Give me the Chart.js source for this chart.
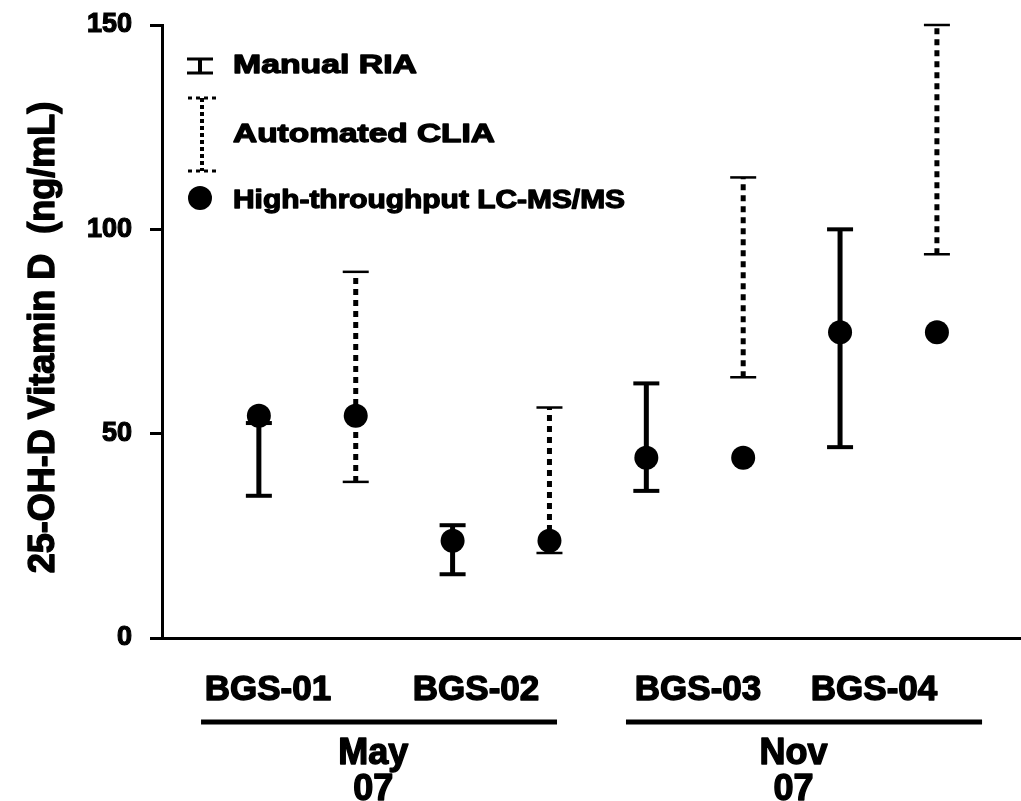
<!DOCTYPE html>
<html>
<head>
<meta charset="utf-8">
<script src="https://cdn.jsdelivr.net/npm/chart.js@4"></script>
<style>
  html, body { margin: 0; padding: 0; background: #fff; overflow: hidden; }
  #wrap { width: 1021px; height: 801px; position: relative; }
  #c { display: block; }
</style>
</head>
<body>
<div id="wrap"><canvas id="c"></canvas></div>
<script>
// ---- data ----
const samples = ['BGS-01', 'BGS-02', 'BGS-03', 'BGS-04'];
const groupNames = ['May', 'Nov'];
const groupYears = ['07', '07'];
const yTicks = [0, 50, 100, 150];
const lcmsms = [54.4, 23.8, 44.1, 74.8];
const riaLow = [34.8, 15.6, 36.0, 46.7];
const riaHigh = [52.6, 27.6, 62.3, 100.0];
const cliaLow = [38.2, 20.8, 63.8, 93.9];
const cliaHigh = [89.6, 56.4, 112.7, 150.0];
const legendLabels = ['Manual RIA', 'Automated CLIA', 'High-throughput LC-MS/MS'];
const yTitle = '25-OH-D Vitamin D  (ng/mL)';

// x slots: RIA at odd slots, CLIA at even slots
function barData(lows, highs, offset) {
  const out = [];
  lows.forEach((lo, i) => {
    const x = 2 * i + 1 + offset;
    out.push({ x: x, y: lo }, { x: x, y: highs[i] }, { x: x, y: null });
  });
  return out;
}
const pointData = [];
lcmsms.forEach((v, i) => { pointData.push({ x: 2 * i + 1, y: v }, { x: 2 * i + 2, y: v }); });

const FONT = '"Liberation Sans", Arial, sans-serif';

// positions (in x-axis units) of the category texts under the axis
const labelPos = [1.094, 3.242, 5.534, 7.351];
const groupPos = [2.18, 6.52];
const groupLines = [[0.403, 4.078], [4.790, 8.466]];

function heavyText(ctx, t, x, y, w) {
  ctx.lineWidth = w;
  ctx.lineJoin = 'round';
  ctx.strokeText(t, x, y);
  ctx.fillText(t, x, y);
}

const bottomLabels = {
  id: 'bottomLabels',
  afterDraw(chart) {
    const { ctx, chartArea } = chart;
    const xs = chart.scales.x;
    const b = chartArea.bottom;
    ctx.save();
    ctx.fillStyle = '#000';
    ctx.strokeStyle = '#000';
    ctx.textAlign = 'center';
    ctx.textBaseline = 'alphabetic';
    ctx.font = 'bold 35px ' + FONT;
    samples.forEach((s, i) => {
      heavyText(ctx, s, xs.getPixelForValue(labelPos[i]), b + 62, 1.4);
    });
    ctx.lineWidth = 5;
    ctx.lineCap = 'butt';
    groupLines.forEach(([a, c]) => {
      ctx.beginPath();
      ctx.moveTo(xs.getPixelForValue(a), b + 84);
      ctx.lineTo(xs.getPixelForValue(c), b + 84);
      ctx.stroke();
    });
    ctx.font = 'bold 36px ' + FONT;
    groupNames.forEach((g, i) => {
      heavyText(ctx, g, xs.getPixelForValue(groupPos[i]), b + 126, 1.4);
      heavyText(ctx, groupYears[i], xs.getPixelForValue(groupPos[i]), b + 162, 1.4);
    });
    // y-axis title
    const ys = chart.scales.y;
    ctx.save();
    ctx.translate(44, (ys.getPixelForValue(0) + ys.getPixelForValue(150)) / 2 + 6);
    ctx.rotate(-Math.PI / 2);
    ctx.font = 'bold 36px ' + FONT;
    ctx.textAlign = 'center';
    ctx.textBaseline = 'middle';
    heavyText(ctx, yTitle, 0, 0, 1.4);
    ctx.restore();
    ctx.restore();
  }
};

const legendPlugin = {
  id: 'customLegend',
  afterDraw(chart) {
    const { ctx } = chart;
    ctx.save();
    ctx.fillStyle = '#000';
    ctx.strokeStyle = '#000';
    // I-bar icon
    ctx.lineWidth = 3;
    ctx.beginPath();
    ctx.moveTo(187, 59); ctx.lineTo(213, 59);
    ctx.moveTo(187, 73); ctx.lineTo(213, 73);
    ctx.stroke();
    ctx.lineWidth = 4;
    ctx.beginPath();
    ctx.moveTo(200, 59); ctx.lineTo(200, 73);
    ctx.stroke();
    // dotted icon
    ctx.lineWidth = 3;
    ctx.setLineDash([4, 4]);
    ctx.beginPath();
    ctx.moveTo(188, 98); ctx.lineTo(220, 98);
    ctx.moveTo(188, 171); ctx.lineTo(220, 171);
    ctx.stroke();
    ctx.lineWidth = 4;
    ctx.setLineDash([4, 3]);
    ctx.beginPath();
    ctx.moveTo(202, 98); ctx.lineTo(202, 171);
    ctx.stroke();
    ctx.setLineDash([]);
    // circle
    ctx.beginPath();
    ctx.arc(200, 198, 12, 0, Math.PI * 2);
    ctx.fill();
    // texts
    ctx.font = 'bold 26px ' + FONT;
    ctx.textAlign = 'left';
    ctx.textBaseline = 'alphabetic';
    const rows = [[73, 184], [142, 262], [208, 392]];
    legendLabels.forEach((t, i) => {
      const w = ctx.measureText(t).width;
      ctx.save();
      ctx.translate(233, rows[i][0]);
      ctx.scale(rows[i][1] / w, 1);
      heavyText(ctx, t, 0, 0, 1.3);
      ctx.restore();
    });
    ctx.restore();
  }
};

new Chart(document.getElementById('c'), {
  type: 'scatter',
  data: {
    datasets: [
      {
        label: legendLabels[0],
        data: barData(riaLow, riaHigh, 0),
        showLine: true,
        spanGaps: false,
        borderColor: '#000',
        borderWidth: 5,
        pointStyle: 'line',
        pointRadius: 13,
        pointBorderWidth: 4,
        pointBorderColor: '#000',
        pointBackgroundColor: '#000',
        clip: false,
        order: 3
      },
      {
        label: legendLabels[1],
        data: barData(cliaLow, cliaHigh, 1),
        showLine: true,
        spanGaps: false,
        borderColor: '#000',
        borderWidth: 5,
        borderDash: [6, 5],
        borderCapStyle: 'butt',
        pointStyle: 'line',
        pointRadius: 13,
        pointBorderWidth: 2.5,
        pointBorderColor: '#000',
        pointBackgroundColor: '#000',
        clip: false,
        order: 2
      },
      {
        label: legendLabels[2],
        data: pointData,
        pointStyle: 'circle',
        pointRadius: 12,
        pointBackgroundColor: '#000',
        pointBorderColor: '#000',
        pointBorderWidth: 0,
        clip: false,
        order: 1
      }
    ]
  },
  options: {
    responsive: true,
    maintainAspectRatio: false,
    animation: false,
    events: [],
    layout: { autoPadding: false, padding: { top: 25, right: 0, left: 0, bottom: 0 } },
    plugins: {
      legend: { display: false },
      tooltip: { enabled: false }
    },
    scales: {
      x: {
        type: 'linear',
        min: 0,
        max: 8.868,
        ticks: { display: false },
        grid: { display: false },
        border: { display: true, color: '#000', width: 3 },
        afterFit(s) { s.height = 163; s.paddingLeft = 0; s.paddingRight = 0; }
      },
      y: {
        min: 0,
        max: 150,
        afterBuildTicks(s) { s.ticks = yTicks.map(v => ({ value: v })); },
        ticks: {
          color: '#000',
          padding: 18,
          textStrokeColor: '#000',
          textStrokeWidth: 1.2,
          font: { family: FONT, size: 27, weight: 'bold' }
        },
        grid: {
          drawOnChartArea: false,
          drawTicks: true,
          tickLength: 12,
          color: '#000',
          lineWidth: 3
        },
        border: { display: true, color: '#000', width: 3 },
        title: { display: false },
        afterFit(s) { s.width = 162; s.paddingTop = 0; s.paddingBottom = 0; }
      }
    }
  },
  plugins: [bottomLabels, legendPlugin]
});
</script>
</body>
</html>
